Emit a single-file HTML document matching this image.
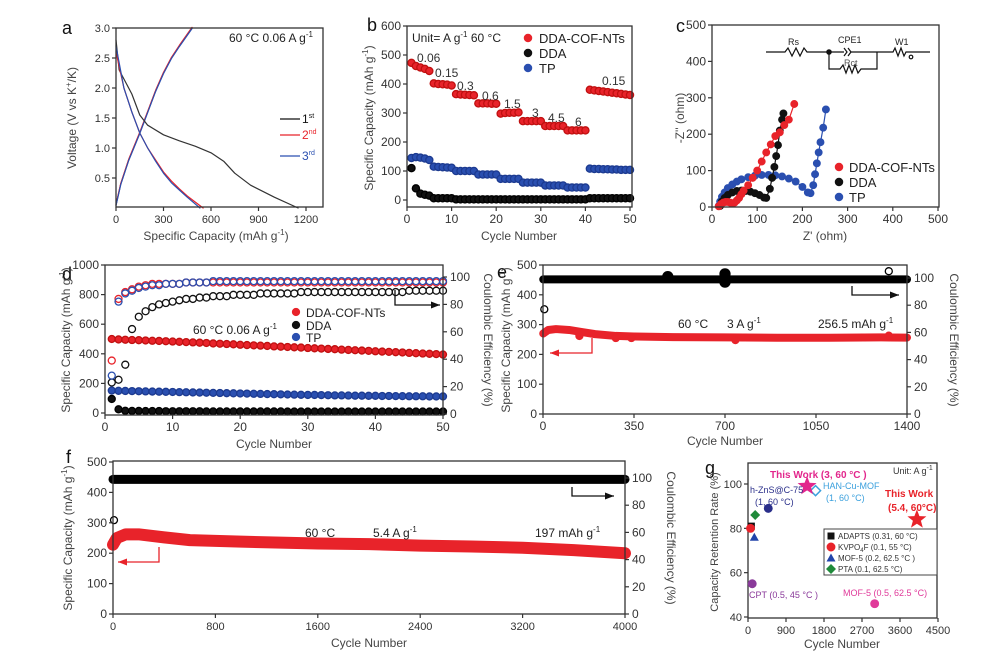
<!DOCTYPE html>
<html><head><meta charset="utf-8"><style>
html,body{margin:0;padding:0;background:#fff;}
svg{display:block;font-family:"Liberation Sans",Arial,sans-serif;}
</style></head><body>
<svg id="fig" width="1005" height="671" viewBox="0 0 1005 671"></svg>
<script>
// ---------- DATA ----------
// panel a
const aDis1Cap=[0,20,60,100,150,200,300,400,500,600,680,750,850,1000,1150];
const aDis1V=[2.8,2.3,2.1,1.9,1.55,1.38,1.22,1.12,1.03,0.92,0.78,0.58,0.38,0.18,0.0];
const aDis2Cap=[0,50,100,150,200,250,300,350,400,450,500,550];
const aDis2V=[2.6,2.0,1.6,1.25,1.0,0.8,0.6,0.45,0.32,0.2,0.1,0.0];
const aDis3Cap=[0,50,100,150,200,250,300,350,400,450,490,530];
const aDis3V=[2.7,2.0,1.6,1.25,1.0,0.78,0.58,0.42,0.3,0.18,0.09,0.0];
const aChCap=[0,30,80,150,200,250,300,350,400,480];
const aChV=[0.05,0.4,0.8,1.25,1.6,1.95,2.25,2.5,2.7,3.0];
// panel b
const bCycles=[1,2,3,4,5,6,7,8,9,10,11,12,13,14,15,16,17,18,19,20,21,22,23,24,25,26,27,28,29,30,31,32,33,34,35,36,37,38,39,40,41,42,43,44,45,46,47,48,49,50];
const bRed=[473,462,457,452,445,402,400,399,398,395,365,364,363,362,361,333,333,333,332,332,298,300,301,301,302,272,272,272,272,272,255,255,255,255,255,240,240,240,240,240,380,378,376,374,372,370,368,366,364,362];
const bBlue=[145,148,146,143,138,115,114,113,112,111,100,100,100,100,100,88,88,88,88,88,73,73,73,73,73,60,60,60,60,60,50,50,50,50,50,43,43,43,43,43,108,107,107,106,106,105,105,104,104,104];
const bBlack=[110,40,22,18,15,6,6,6,6,6,2,2,2,2,2,2,2,2,2,2,2,2,2,2,2,2,2,2,2,2,2,2,2,2,2,2,2,2,2,2,6,6,6,6,6,6,6,6,6,6];
const bRateLabels=["0.06","0.15","0.3","0.6","1.5","3","4.5","6","0.15"];
// panel c
const cRedX=[15,20,25,30,35,40,45,50,55,60,65,70,80,90,100,110,120,130,140,150,160,170,182];
const cRedY=[2,8,12,14,14,12,10,12,18,25,35,45,60,80,100,125,150,172,195,205,225,240,283];
const cBlkX=[18,22,28,35,45,55,65,75,85,95,105,115,120,128,133,138,142,146,150,155,158];
const cBlkY=[3,15,25,33,40,44,45,44,42,38,33,26,25,50,80,110,140,170,210,240,257];
const cBluX=[15,18,22,28,35,45,55,65,80,95,110,125,140,155,170,185,200,212,218,224,228,232,236,240,246,252];
const cBluY=[3,15,28,40,52,62,70,76,82,86,88,88,87,84,78,70,55,40,38,60,90,120,150,178,218,268];
// panel d
const dCycles=[1,2,3,4,5,6,7,8,9,10,11,12,13,14,15,16,17,18,19,20,21,22,23,24,25,26,27,28,29,30,31,32,33,34,35,36,37,38,39,40,41,42,43,44,45,46,47,48,49,50];
const dRedCap=[500,497,495,493,492,490,488,487,485,483,481,479,477,475,473,470,468,466,464,461,459,457,455,453,450,448,446,444,442,439,437,435,433,431,428,426,424,422,420,417,415,413,411,409,406,404,402,400,398,395];
const dBluCap=[152,150,149,148,147,146,145,144,143,142,141,140,139,138,137,136,135,134,133,132,131,130,129,128,127,126,125,124,123,122,122,121,120,119,119,118,117,117,116,116,115,115,114,114,113,113,113,112,112,112];
const dBlkCap=[95,25,15,14,14,13,13,13,12,12,12,12,12,12,11,11,11,11,11,11,11,11,11,11,11,11,10,10,10,10,10,10,10,10,10,10,10,10,10,10,10,10,10,10,10,10,10,10,10,10];
const dRedCE=[39,84,89,91,93,94,95,95,95,95,95,96,96,96,96,96,96,96,96,96,96,96,96,96,96,96,96,96,96,96,96,96,96,96,96,96,96,96,96,96,96,96,96,96,96,96,96,96,96,96];
const dBluCE=[28,82,88,90,92,93,94,94,95,95,95,96,96,96,96,97,97,97,97,97,97,97,97,97,97,97,97,97,97,97,97,97,97,97,97,97,97,97,97,97,97,97,97,97,97,97,97,97,97,97];
const dBlkCE=[23,25,36,62,71,75,78,80,81,82,83,84,84,85,85,86,86,86,87,87,87,87,88,88,88,88,88,88,89,89,89,89,89,89,89,89,89,89,89,89,89,89,89,89,90,90,90,90,90,90];
// panel e
const eCyc=[1,20,50,100,150,200,280,350,500,700,900,1100,1300,1400];
const eCap=[270,282,285,282,275,268,262,260,258,257,256,256,257,256.5];
const eDipCyc=[140,280,340,740,1330];
const eDipCap=[262,255,255,248,263];
const eCEcyc=[1,1400];
const eCE=[99,99];
const eOutCyc=[5,1330];
const eOutCE=[77,105];
// panel f
const fCyc=[0,30,100,200,400,600,1000,1600,2000,2400,2800,3200,3600,4000];
const fCap=[228,250,262,262,252,243,238,232,230,225,222,218,210,200];
const fCEcyc=[0,4000];
const fCE=[99,99];
const fOutCyc=[0];
const fOutCE=[69];
// panel g
const gNames=["ADAPTS","KVPO4F","MOF-5 (0.2)","PTA","h-ZnS@C-75","HAN-Cu-MOF","This Work 3","This Work 5.4","CPT","MOF-5 (0.5)"];
const gCycles=[80,60,150,170,480,1600,1400,4000,100,3000];
const gRetention=[81,80,76,86,89,97,99,84,55,46];

// ---------- HELPERS ----------
const NS="http://www.w3.org/2000/svg";
const svg=document.getElementById('fig');
function el(tag,attrs,parent){const e=document.createElementNS(NS,tag);for(const k in attrs)e.setAttribute(k,attrs[k]);(parent||svg).appendChild(e);return e;}
function tag(e,n,i){
  
  
  return e;}
function lin(d0,d1,r0,r1){return v=>r0+(v-d0)*(r1-r0)/(d1-d0);}
function txt(x,y,s,opt){opt=opt||{};const t=el('text',{x:x,y:y,'font-size':opt.fs||12,fill:opt.fill||'#222','text-anchor':opt.anchor||'start','font-weight':opt.fw||'normal'});if(opt.rot)t.setAttribute('transform','rotate('+opt.rot+' '+x+' '+y+')');t.innerHTML=s;return t;}
function box(x0,y0,x1,y1,name){const r=el('rect',{x:x0,y:y0,width:x1-x0,height:y1-y0,fill:'none',stroke:'#333','stroke-width':1.3});tag(r,name);return r;}
function xticks(vals,sx,y,name,fs){vals.forEach(v=>{const l=el('line',{x1:sx(v),x2:sx(v),y1:y,y2:y+4,stroke:'#333','stroke-width':1.2});tag(l,name+'-tick');const t=txt(sx(v),y+16,v,{anchor:'middle',fs:fs||12,fill:'#333'});tag(t,name+'-label');});}
function yticks(vals,sy,x,name,right,fs,fmt){vals.forEach(v=>{const l=el('line',{x1:x,x2:right?x+4:x-4,y1:sy(v),y2:sy(v),stroke:'#333','stroke-width':1.2});tag(l,name+'-tick');const t=txt(right?x+7:x-6,sy(v)+4,fmt?fmt(v):v,{anchor:right?'start':'end',fs:fs||12,fill:'#333'});tag(t,name+'-label');});}
function poly(xs,ys,sx,sy,color,w,name){const p=el('polyline',{points:xs.map((x,i)=>sx(x)+','+sy(ys[i])).join(' '),fill:'none',stroke:color,'stroke-width':w,'stroke-linejoin':'round','stroke-linecap':'round'});tag(p,name);return p;}
function dot(x,y,r,fill,stroke,name){const c=el('circle',{cx:x,cy:y,r:r,fill:fill,stroke:stroke,'stroke-width':1.3});tag(c,name);return c;}
function arrow(pts,color,name){const p=el('polyline',{points:pts.map(p=>p.join(',')).join(' '),fill:'none',stroke:color,'stroke-width':1.3});tag(p,name);const a=pts[pts.length-1],b=pts[pts.length-2];const dir=Math.sign(a[0]-b[0]);const h=el('polygon',{points:a[0]+','+a[1]+' '+(a[0]-dir*9)+','+(a[1]-3.5)+' '+(a[0]-dir*9)+','+(a[1]+3.5),fill:color});tag(h,name+'-head');}
const RED='#e8232a',BLK='#111',BLU='#2a4fb0';

// ---------- PANEL A ----------
{const sx=lin(0,1200,116,306),sy=lin(0,3,208,28);
tag(txt(62,34,'a',{fs:18,fill:'#111'}),'panel-label-a');
poly(aChCap,aChV,sx,sy,BLK,1.2,'charge-1st-line');
poly(aChCap,aChV.map(v=>v+0.01),sx,sy,RED,1.2,'charge-2nd-line');
poly(aChCap,aChV.map(v=>v-0.01),sx,sy,BLU,1.2,'charge-3rd-line');
poly(aDis1Cap,aDis1V,sx,sy,'#333',1.2,'discharge-1st-line');
poly(aDis2Cap,aDis2V,sx,sy,RED,1.2,'discharge-2nd-line');
poly(aDis3Cap,aDis3V,sx,sy,BLU,1.2,'discharge-3rd-line');
box(116,28,323,207,'plot-area-a');
xticks([0,300,600,900,1200],sx,207,'x-axis-a',11);
yticks([0.5,1.0,1.5,2.0,2.5,3.0],sy,116,'y-axis-a',false,11,v=>v.toFixed(1));
tag(txt(216,240,'Specific Capacity (mAh g<tspan font-size="8" dy="-5">-1</tspan><tspan dy="5">)</tspan>',{anchor:'middle',fs:12,fill:'#444'}),'x-axis-title-a');
tag(txt(76,118,'Voltage (V vs K<tspan font-size="8" dy="-5">+</tspan><tspan dy="5">/K)</tspan>',{anchor:'middle',fs:12,fill:'#444',rot:-90}),'y-axis-title-a');
tag(txt(229,42,'60 °C  0.06 A g<tspan font-size="8" dy="-5">-1</tspan>',{fs:12}),'condition-label-a');
[['1','st',BLK,119],['2','nd',RED,135],['3','rd',BLU,156]].forEach(l=>{const ln=el('line',{x1:280,x2:300,y1:l[3],y2:l[3],stroke:l[2],'stroke-width':1.3});tag(ln,'legend-swatch-a');tag(txt(302,l[3]+4,l[0]+'<tspan font-size="7" dy="-5">'+l[1]+'</tspan>',{fs:12,fill:l[2]}),'legend-entry-a');});
}
// ---------- PANEL B ----------
{const sx=lin(0,50,407,630),sy=lin(0,600,200,26);
tag(txt(367,31,'b',{fs:18,fill:'#111'}),'panel-label-b');
bCycles.forEach((c,i)=>{dot(sx(c),sy(bBlack[i]),3.6,BLK,'#000','dda-point');});
bCycles.forEach((c,i)=>{dot(sx(c),sy(bBlue[i]),3.6,BLU,'#1c3a90','tp-point');});
bCycles.forEach((c,i)=>{dot(sx(c),sy(bRed[i]),3.6,RED,'#c01010','cof-point');});
box(407,26,632,207,'plot-area-b');
xticks([0,10,20,30,40,50],sx,207,'x-axis-b',12);
yticks([0,100,200,300,400,500,600],sy,407,'y-axis-b',false,12);
tag(txt(519,240,'Cycle Number',{anchor:'middle',fs:12,fill:'#444'}),'x-axis-title-b');
tag(txt(373,118,'Specific Capacity (mAh g<tspan font-size="8" dy="-5">-1</tspan><tspan dy="5">)</tspan>',{anchor:'middle',fs:12,fill:'#444',rot:-90}),'y-axis-title-b');
tag(txt(412,42,'Unit= A g<tspan font-size="8" dy="-5">-1</tspan><tspan dy="5">  60 °C</tspan>',{fs:12}),'unit-label-b');
const rx=[417,435,457,482,504,532,548,575,602],ry=[62,77,90,100,108,117,122,126,85];
bRateLabels.forEach((s,i)=>tag(txt(rx[i],ry[i],s,{fs:12,fill:'#333'}),'rate-label'));
[['DDA-COF-NTs',RED,38],['DDA',BLK,53],['TP',BLU,68]].forEach(l=>{dot(528,l[2],3.6,l[1],l[1],'legend-marker-b');tag(txt(539,l[2]+5,l[0],{fs:13}),'legend-entry-b');});
}
// ---------- PANEL C ----------
{const sx=lin(0,500,712,938),sy=lin(0,500,207,25);
tag(txt(676,32,'c',{fs:18,fill:'#111'}),'panel-label-c');
poly(cBluX,cBluY,sx,sy,BLU,1.2,'tp-line');cBluX.forEach((x,i)=>dot(sx(x),sy(cBluY[i]),3.3,BLU,BLU,'tp-point'));
poly(cBlkX,cBlkY,sx,sy,BLK,1.2,'dda-line');cBlkX.forEach((x,i)=>dot(sx(x),sy(cBlkY[i]),3.3,BLK,BLK,'dda-point'));
poly(cRedX,cRedY,sx,sy,RED,1.2,'cof-line');cRedX.forEach((x,i)=>dot(sx(x),sy(cRedY[i]),3.3,RED,RED,'cof-point'));
box(712,25,939,207,'plot-area-c');
xticks([0,100,200,300,400,500],sx,207,'x-axis-c',12);
yticks([0,100,200,300,400,500],sy,712,'y-axis-c',false,12);
tag(txt(825,240,'Z\' (ohm)',{anchor:'middle',fs:12,fill:'#444'}),'x-axis-title-c');
tag(txt(684,118,'-Z\'\' (ohm)',{anchor:'middle',fs:12,fill:'#444',rot:-90}),'y-axis-title-c');
[['DDA-COF-NTs',RED,167],['DDA',BLK,182],['TP',BLU,197]].forEach(l=>{dot(839,l[2],3.6,l[1],l[1],'legend-marker-c');tag(txt(849,l[2]+5,l[0],{fs:13}),'legend-entry-c');});
const g=el('g',{stroke:'#111',fill:'none','stroke-width':1.2});tag(g,'equivalent-circuit');
el('polyline',{points:'766,52 785,52 788,48 792,56 796,48 800,56 804,48 807,52 829,52 844,52'},g);
el('polyline',{points:'844,48 847,52 844,56'},g);
el('polyline',{points:'848,48 851,52 848,56'},g);
el('polyline',{points:'851,52 893,52 895,48 898,56 901,48 904,56 906,52 930,52'},g);
el('polyline',{points:'829,52 829,69 840,69 843,65 846,73 849,65 852,73 855,65 858,73 861,69 877,69 877,52'},g);
el('circle',{cx:829,cy:52,r:2.2,fill:'#111'},g);
el('circle',{cx:911,cy:57,r:1.8},g);
tag(txt(788,45,'Rs',{fs:9}),'rs-label');tag(txt(838,43,'CPE1',{fs:9}),'cpe1-label');tag(txt(895,45,'W1',{fs:9}),'w1-label');tag(txt(844,66,'Rct',{fs:9,fill:'#555'}),'rct-label');
}
// ---------- PANEL D ----------
{const sx=lin(0,50,105,443),sy=lin(0,1000,413,265),sr=lin(0,100,414,277);
tag(txt(62,280,'d',{fs:18,fill:'#111'}),'panel-label-d');
dCycles.forEach((c,i)=>{dot(sx(c),sr(dBlkCE[i]),3.5,'none',BLK,'dda-ce-point');});
dCycles.forEach((c,i)=>{dot(sx(c),sr(dRedCE[i]),3.5,'none',RED,'cof-ce-point');});
dCycles.forEach((c,i)=>{dot(sx(c),sr(dBluCE[i]),3.5,'none',BLU,'tp-ce-point');});
dCycles.forEach((c,i)=>{dot(sx(c),sy(dRedCap[i]),3.5,RED,'#c01010','cof-capacity-point');});
dCycles.forEach((c,i)=>{dot(sx(c),sy(dBluCap[i]),3.5,BLU,'#1c3a90','tp-capacity-point');});
dCycles.forEach((c,i)=>{dot(sx(c),sy(dBlkCap[i]),3.5,BLK,'#000','dda-capacity-point');});
box(105,265,443,415,'plot-area-d');
xticks([0,10,20,30,40,50],sx,415,'x-axis-d',12);
yticks([0,200,400,600,800,1000],sy,105,'y-axis-left-d',false,12);
yticks([0,20,40,60,80,100],sr,443,'y-axis-right-d',true,12);
tag(txt(274,448,'Cycle Number',{anchor:'middle',fs:12,fill:'#444'}),'x-axis-title-d');
tag(txt(70,340,'Specific Capacity (mAh g<tspan font-size="8" dy="-5">-1</tspan><tspan dy="5">)</tspan>',{anchor:'middle',fs:12,fill:'#444',rot:-90}),'y-axis-title-left-d');
tag(txt(484,340,'Coulombic Efficiency (%)',{anchor:'middle',fs:12,fill:'#444',rot:90}),'y-axis-title-right-d');
tag(txt(193,334,'60 °C    0.06 A g<tspan font-size="8" dy="-5">-1</tspan>',{fs:12}),'condition-label-d');
[['DDA-COF-NTs',RED,312],['DDA',BLK,325],['TP',BLU,337]].forEach(l=>{dot(296,l[2],3.5,l[1],l[1],'legend-marker-d');tag(txt(306,l[2]+5,l[0],{fs:12}),'legend-entry-d');});
arrow([[395,290],[395,305],[440,305]],'#111','ce-axis-arrow-d');
}
// ---------- PANEL E ----------
{const sx=lin(0,1400,543,907),sy=lin(0,500,414,265),sr=lin(0,100,414,278);
tag(txt(497,278,'e',{fs:18,fill:'#111'}),'panel-label-e');
poly(eCEcyc,eCE,sx,sr,'#000',8,'ce-band-e');
dot(sx(480),sr(101),5,'#000','#000','ce-outlier');dot(sx(700),sr(97),5,'#000','#000','ce-outlier');dot(sx(700),sr(103),5,'#000','#000','ce-outlier');
eOutCyc.forEach((c,i)=>dot(sx(c),sr(eOutCE[i]),3.5,'#fff','#000','ce-open-point'));
poly(eCyc,eCap,sx,sy,RED,8,'capacity-band-e');
eDipCyc.forEach((c,i)=>dot(sx(c),sy(eDipCap[i]),3.5,RED,RED,'capacity-point-e'));
box(543,265,907,414,'plot-area-e');
xticks([0,350,700,1050,1400],sx,414,'x-axis-e',12);
yticks([0,100,200,300,400,500],sy,543,'y-axis-left-e',false,12);
yticks([0,20,40,60,80,100],sr,907,'y-axis-right-e',true,12);
tag(txt(725,445,'Cycle Number',{anchor:'middle',fs:12,fill:'#444'}),'x-axis-title-e');
tag(txt(510,340,'Specific Capacity (mAh g<tspan font-size="8" dy="-5">-1</tspan><tspan dy="5">)</tspan>',{anchor:'middle',fs:12,fill:'#444',rot:-90}),'y-axis-title-left-e');
tag(txt(950,340,'Coulombic Efficiency (%)',{anchor:'middle',fs:12,fill:'#444',rot:90}),'y-axis-title-right-e');
tag(txt(678,328,'60 °C',{fs:12}),'temp-label-e');
tag(txt(727,328,'3 A g<tspan font-size="8" dy="-5">-1</tspan>',{fs:12}),'rate-label-e');
tag(txt(818,328,'256.5 mAh g<tspan font-size="8" dy="-5">-1</tspan>',{fs:12}),'final-capacity-label-e');
arrow([[592,338],[592,353],[550,353]],RED,'capacity-axis-arrow-e');
arrow([[852,286],[852,295],[899,295]],'#111','ce-axis-arrow-e');
}
// ---------- PANEL F ----------
{const sx=lin(0,4000,113,625),sy=lin(0,500,614,462),sr=lin(0,100,614,478);
tag(txt(66,463,'f',{fs:18,fill:'#111'}),'panel-label-f');
poly(fCEcyc,fCE,sx,sr,'#000',9,'ce-band-f');
fOutCyc.forEach((c,i)=>dot(sx(c)+1,sr(fOutCE[i]),3.5,'#fff','#000','ce-open-point'));
poly(fCyc,fCap,sx,sy,RED,12,'capacity-band-f');
box(113,461,625,614,'plot-area-f');
xticks([0,800,1600,2400,3200,4000],sx,614,'x-axis-f',11);
yticks([0,100,200,300,400,500],sy,113,'y-axis-left-f',false,12);
yticks([0,20,40,60,80,100],sr,625,'y-axis-right-f',true,12);
tag(txt(369,647,'Cycle Number',{anchor:'middle',fs:12,fill:'#444'}),'x-axis-title-f');
tag(txt(72,538,'Specific Capacity (mAh g<tspan font-size="8" dy="-5">-1</tspan><tspan dy="5">)</tspan>',{anchor:'middle',fs:12,fill:'#444',rot:-90}),'y-axis-title-left-f');
tag(txt(667,538,'Coulombic Efficiency (%)',{anchor:'middle',fs:12,fill:'#444',rot:90}),'y-axis-title-right-f');
tag(txt(305,537,'60 °C',{fs:12}),'temp-label-f');
tag(txt(373,537,'5.4 A g<tspan font-size="8" dy="-5">-1</tspan>',{fs:12}),'rate-label-f');
tag(txt(535,537,'197 mAh g<tspan font-size="8" dy="-5">-1</tspan>',{fs:12}),'final-capacity-label-f');
arrow([[159,547],[159,562],[118,562]],RED,'capacity-axis-arrow-f');
arrow([[572,487],[572,496],[614,496]],'#111','ce-axis-arrow-f');
}
// ---------- PANEL G ----------
{const sx=lin(0,4500,748,938),sy=lin(40,100,617,484);
tag(txt(705,474,'g',{fs:18,fill:'#111'}),'panel-label-g');
box(748,463,937,618,'plot-area-g');
xticks([0,900,1800,2700,3600,4500],sx,618,'x-axis-g',11);
yticks([40,60,80,100],sy,748,'y-axis-g',false,11);
tag(txt(842,648,'Cycle Number',{anchor:'middle',fs:12,fill:'#444'}),'x-axis-title-g');
tag(txt(718,542,'Capacity Retention Rate (%)',{anchor:'middle',fs:11,fill:'#444',rot:-90}),'y-axis-title-g');
function star(cx,cy,r,fill,name){let p=[];for(let k=0;k<10;k++){const a=-Math.PI/2+k*Math.PI/5,rr=k%2?r*0.42:r;p.push((cx+rr*Math.cos(a)).toFixed(1)+','+(cy+rr*Math.sin(a)).toFixed(1));}tag(el('polygon',{points:p.join(' '),fill:fill}),name);}
function marker(i,x,y){
 if(i===0)tag(el('rect',{x:x-3.5,y:y-3.5,width:7,height:7,fill:'#111'}),'adapts-marker');
 else if(i===1)dot(x,y,3.8,RED,RED,'kvpof-marker');
 else if(i===2)tag(el('polygon',{points:(x)+','+(y-4.5)+' '+(x-4.5)+','+(y+3.5)+' '+(x+4.5)+','+(y+3.5),fill:'#2244aa'}),'mof5-marker');
 else if(i===3)tag(el('polygon',{points:x+','+(y-5)+' '+(x+5)+','+y+' '+x+','+(y+5)+' '+(x-5)+','+y,fill:'#1f8a3a'}),'pta-marker');
 else if(i===4)dot(x,y,3.8,'#2a2f8a','#2a2f8a','hzns-marker');
 else if(i===5)tag(el('polygon',{points:x+','+(y-5)+' '+(x+5)+','+y+' '+x+','+(y+5)+' '+(x-5)+','+y,fill:'#fff',stroke:'#3aa0dd','stroke-width':1.5}),'hancumof-marker');
 else if(i===6)star(x,y,10,'#e2268c','this-work-3-marker');
 else if(i===7)star(x,y,10,'#e8232a','this-work-54-marker');
 else if(i===8)dot(x,y,3.8,'#8a3a9a','#8a3a9a','cpt-marker');
 else dot(x,y,3.8,'#e03a9a','#e03a9a','mof5-05-marker');}
gCycles.forEach((c,i)=>marker(i,sx(c),sy(gRetention[i])));
tag(txt(893,474,'Unit: A g<tspan font-size="7" dy="-4">-1</tspan>',{fs:9,fill:'#333'}),'unit-label-g');
tag(txt(770,478,'This Work (3, 60 °C )',{fs:10,fill:'#e2268c',fw:'bold'}),'this-work-3-label');
tag(txt(750,493,'h-ZnS@C-75',{fs:9,fill:'#2a2f8a'}),'hzns-label');
tag(txt(755,505,'(1, 60 °C)',{fs:9,fill:'#2a2f8a'}),'hzns-cond-label');
tag(txt(823,489,'HAN-Cu-MOF',{fs:9,fill:'#3aa0dd'}),'hancumof-label');
tag(txt(826,501,'(1, 60 °C)',{fs:9,fill:'#3aa0dd'}),'hancumof-cond-label');
tag(txt(885,497,'This Work',{fs:10,fill:'#e8232a',fw:'bold'}),'this-work-54-label');
tag(txt(888,511,'(5.4, 60°C)',{fs:10,fill:'#e8232a',fw:'bold'}),'this-work-54-cond-label');
tag(txt(749,598,'CPT (0.5, 45 °C )',{fs:9,fill:'#8a3a9a'}),'cpt-label');
tag(txt(843,596,'MOF-5 (0.5, 62.5 °C)',{fs:9,fill:'#e03a9a'}),'mof5-05-label');
const lb=el('rect',{x:824,y:529,width:113,height:46,fill:'#fff',stroke:'#444','stroke-width':1});tag(lb,'legend-box-g');
const ls=['ADAPTS (0.31, 60 °C)','KVPO<tspan font-size="6" dy="2">4</tspan><tspan dy="-2">F (0.1, 55 °C)</tspan>','MOF-5 (0.2, 62.5 °C )','PTA (0.1, 62.5 °C)'];
[536,547,558,569].forEach((y,i)=>{marker(i,831,y);tag(txt(838,y+3,ls[i],{fs:8,fill:'#333'}),'legend-entry-g');});
}
</script>
</body></html>
